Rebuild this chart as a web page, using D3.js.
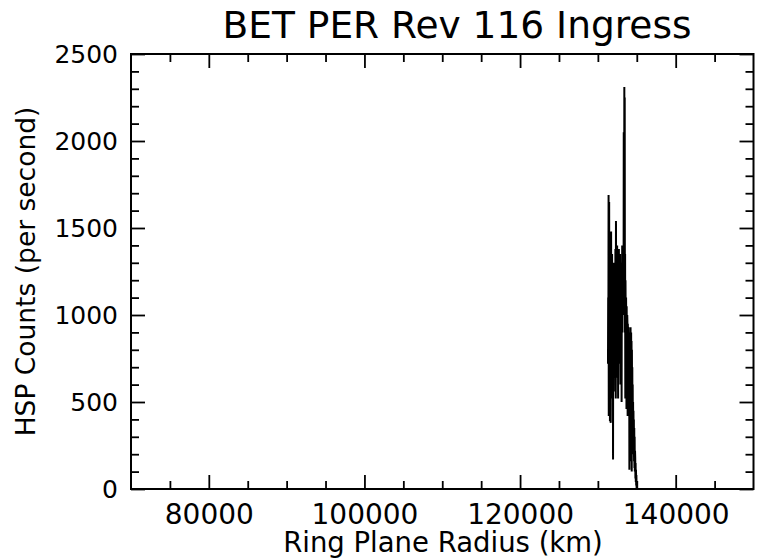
<!DOCTYPE html>
<html>
<head>
<meta charset="utf-8">
<script src="https://cdn.jsdelivr.net/npm/d3@7"></script>
<style>
  html, body { margin: 0; padding: 0; background: #fff; }
  svg { display: block; }
  text { font-family: "DejaVu Sans", sans-serif; fill: #000; }
</style>
</head>
<body>
<script>
// ---- Data ----
const title = "BET PER Rev 116 Ingress";
const xLabel = "Ring Plane Radius (km)";
const yLabel = "HSP Counts (per second)";
const xTicks = [80000, 100000, 120000, 140000];
const yTicks = [0, 500, 1000, 1500, 2000, 2500];
const radius = [
  131300, 131325, 131350, 131375, 131400, 131425, 131450, 131475, 131500, 131525,
  131550, 131575, 131600, 131625, 131650, 131675, 131700, 131725, 131750, 131775,
  131800, 131825, 131850, 131875, 131900, 131925, 131950, 131975, 132000, 132025,
  132050, 132075, 132100, 132125, 132150, 132175, 132200, 132225, 132250, 132275,
  132300, 132325, 132350, 132375, 132400, 132425, 132450, 132475, 132500, 132525,
  132550, 132575, 132600, 132625, 132650, 132675, 132700, 132725, 132750, 132775,
  132800, 132825, 132850, 132875, 132900, 132925, 132950, 132975, 133000, 133025,
  133050, 133075, 133100, 133125, 133150, 133175, 133200, 133225, 133250, 133275,
  133300, 133325, 133350, 133375, 133400, 133425, 133450, 133475, 133500, 133525,
  133550, 133575, 133600, 133625, 133650, 133675, 133700, 133725, 133750, 133775,
  133800, 133825, 133850, 133875, 133900, 133925, 133950, 133975, 134000, 134025,
  134050, 134075, 134100, 134125, 134150, 134175, 134200, 134225, 134250, 134275,
  134300, 134325, 134350, 134375, 134400, 134425, 134450, 134475, 134500, 134525,
  134550, 134575, 134600, 134625, 134650, 134675, 134700, 134725, 134750, 134775,
  134800, 134825, 134850, 134875, 134900, 134925, 134950, 134975, 135000
];
const counts = [
  720, 1100, 900, 1690, 420, 1200, 1650, 700, 1100, 1480,
  390, 1300, 1460, 600, 380, 1200, 1480, 900, 1250, 1000,
  620, 1350, 1100, 520, 1200, 900, 170, 1300, 1000, 640,
  1250, 1100, 720, 1300, 900, 1250, 1100, 560, 1380, 950,
  520, 1540, 1150, 820, 1350, 1000, 640, 1400, 1200, 780,
  1200, 950, 520, 1250, 1100, 900, 1380, 1000, 720, 1300,
  1050, 880, 1350, 1150, 600, 1250, 1000, 850, 1300, 1100,
  500, 1200, 950, 1400, 900, 1250, 1050, 1400, 1100, 1300,
  1000, 2050, 1250, 1400, 2310, 1200, 2250, 900, 1350, 520,
  1200, 1000, 700, 1100, 950, 460, 1050, 850, 720, 1000,
  950, 420, 950, 900, 600, 930, 850, 700, 900, 800,
  110, 880, 320, 900, 700, 160, 930, 650, 420, 900,
  560, 850, 100, 800, 420, 700, 200, 600, 300, 500,
  250, 450, 200, 400, 160, 350, 120, 300, 100, 220,
  180, 60, 150, 40, 110, 20, 80, 10, 0
];

// ---- Layout ----
const W = 757, H = 558;
const m = { left: 131, right: 3.5, top: 54, bottom: 69 };
const svg = d3.select("body").append("svg").attr("width", W).attr("height", H);

const x = d3.scaleLinear().domain([70000, 150000]).range([m.left, W - m.right]);
const y = d3.scaleLinear().domain([0, 2500]).range([H - m.bottom, m.top]);

const data = radius.map((r, i) => ({ r, c: counts[i] }));

svg.append("clipPath").attr("id", "clip").append("rect")
  .attr("x", x.range()[0]).attr("y", y.range()[1])
  .attr("width", x.range()[1] - x.range()[0]).attr("height", y.range()[0] - y.range()[1]);

svg.append("path")
  .datum(data)
  .attr("clip-path", "url(#clip)")
  .attr("fill", "none")
  .attr("stroke", "#000")
  .attr("stroke-width", 2)
  .attr("stroke-linejoin", "miter")
  .attr("d", d3.line().x(d => x(d.r)).y(d => y(d.c)));

// ---- Axes (ticks inward, mirrored) ----
const MAJ = 14, MIN = 8;
const xMinor = d3.range(75000, 150000, 5000).filter(v => v % 20000 !== 0);
const yMinor = d3.range(0, 2501, 100).filter(v => v % 500 !== 0);

function styleAxis(g) {
  g.select(".domain").remove();
  g.selectAll(".tick line").attr("stroke", "#000").attr("stroke-width", 1.8);
}

// bottom
svg.append("g").attr("transform", `translate(0,${y(0)})`)
  .call(d3.axisBottom(x).tickValues(xTicks).tickSize(-MAJ).tickPadding(15).tickFormat(d3.format("d")))
  .call(styleAxis)
  .call(g => g.selectAll(".tick text").attr("font-size", 28).attr("font-family", "DejaVu Sans"));
svg.append("g").attr("transform", `translate(0,${y(0)})`)
  .call(d3.axisBottom(x).tickValues(xMinor).tickSize(-MIN).tickFormat(""))
  .call(styleAxis);
// top
svg.append("g").attr("transform", `translate(0,${y(2500)})`)
  .call(d3.axisTop(x).tickValues(xTicks).tickSize(-MAJ).tickFormat(""))
  .call(styleAxis);
svg.append("g").attr("transform", `translate(0,${y(2500)})`)
  .call(d3.axisTop(x).tickValues(xMinor).tickSize(-MIN).tickFormat(""))
  .call(styleAxis);
// left
svg.append("g").attr("transform", `translate(${x(70000)},0)`)
  .call(d3.axisLeft(y).tickValues(yTicks).tickSize(-MAJ).tickPadding(13).tickFormat(d3.format("d")))
  .call(styleAxis)
  .call(g => g.selectAll(".tick text").attr("font-size", 25).attr("font-family", "DejaVu Sans"));
svg.append("g").attr("transform", `translate(${x(70000)},0)`)
  .call(d3.axisLeft(y).tickValues(yMinor).tickSize(-MIN).tickFormat(""))
  .call(styleAxis);
// right
svg.append("g").attr("transform", `translate(${x(150000)},0)`)
  .call(d3.axisRight(y).tickValues(yTicks).tickSize(-MAJ).tickFormat(""))
  .call(styleAxis);
svg.append("g").attr("transform", `translate(${x(150000)},0)`)
  .call(d3.axisRight(y).tickValues(yMinor).tickSize(-MIN).tickFormat(""))
  .call(styleAxis);

// frame
svg.append("rect")
  .attr("x", x(70000)).attr("y", y(2500))
  .attr("width", x(150000) - x(70000)).attr("height", y(0) - y(2500))
  .attr("fill", "none").attr("stroke", "#000").attr("stroke-width", 2);

// labels
svg.append("text").attr("x", 457).attr("y", 38)
  .attr("text-anchor", "middle").attr("font-size", 37.5).text(title);
svg.append("text").attr("x", 443).attr("y", 552)
  .attr("text-anchor", "middle").attr("font-size", 27.5).text(xLabel);
svg.append("text")
  .attr("transform", `translate(35,${(y(0) + y(2500)) / 2}) rotate(-90)`)
  .attr("text-anchor", "middle").attr("font-size", 26.5).text(yLabel);
</script>
</body>
</html>
